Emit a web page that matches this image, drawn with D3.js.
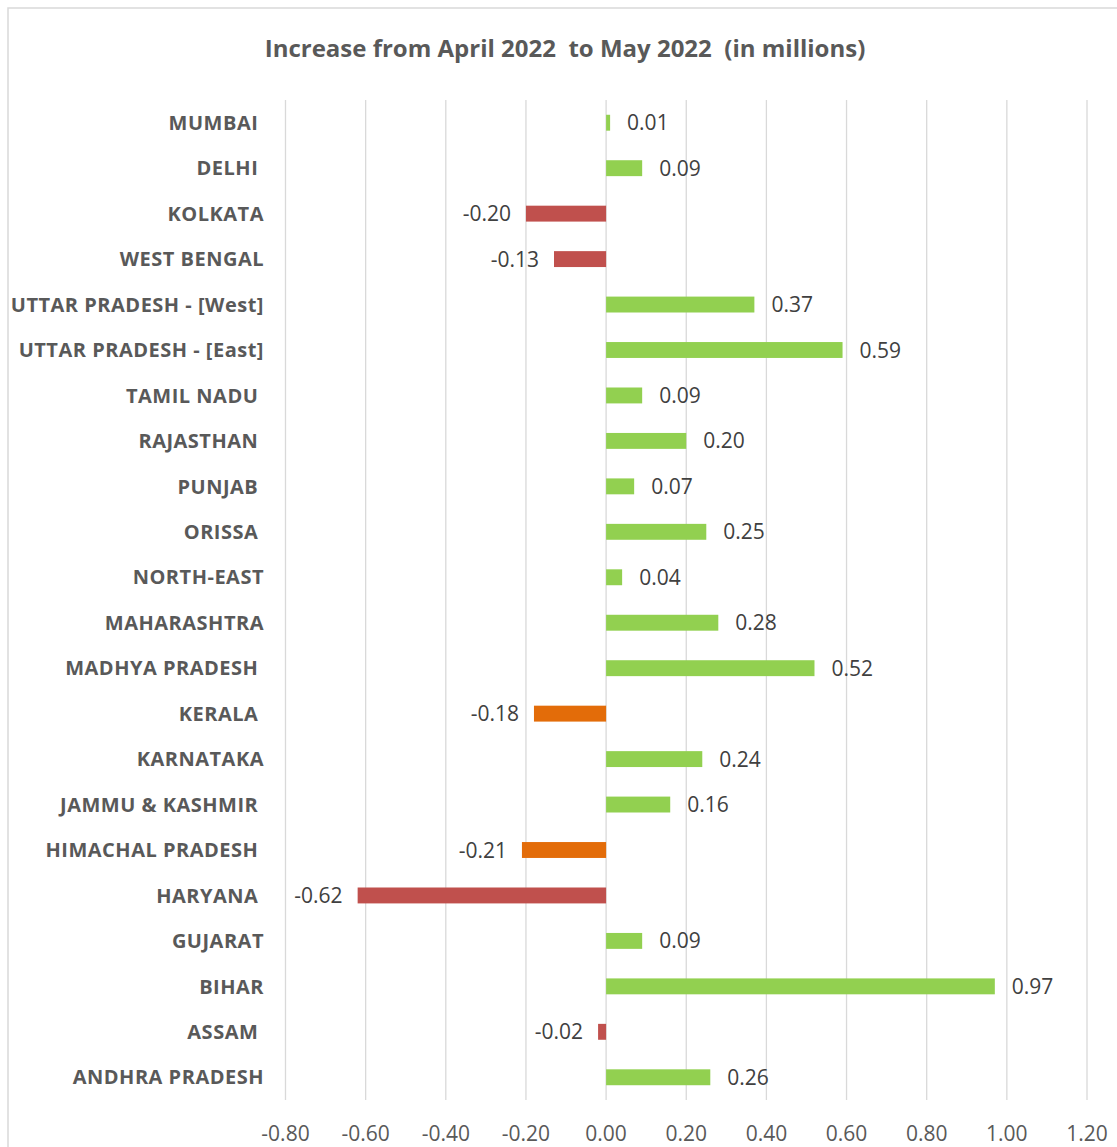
<!DOCTYPE html>
<html><head><meta charset="utf-8">
<script src="https://cdn.jsdelivr.net/npm/d3@7"></script>
<style>
html,body{margin:0;padding:0;background:#fff;}
svg{display:block;}
text{white-space:pre;}
</style></head>
<body>
<script>
const title = "Increase from April 2022  to May 2022  (in millions)";
const categories = ["MUMBAI ","DELHI ","KOLKATA","WEST BENGAL","UTTAR PRADESH - [West]","UTTAR PRADESH - [East]","TAMIL NADU ","RAJASTHAN ","PUNJAB ","ORISSA ","NORTH-EAST","MAHARASHTRA","MADHYA PRADESH ","KERALA ","KARNATAKA","JAMMU & KASHMIR ","HIMACHAL PRADESH ","HARYANA ","GUJARAT","BIHAR","ASSAM ","ANDHRA PRADESH"];
const values = [0.01,0.09,-0.20,-0.13,0.37,0.59,0.09,0.20,0.07,0.25,0.04,0.28,0.52,-0.18,0.24,0.16,-0.21,-0.62,0.09,0.97,-0.02,0.26];
const colorGroup = ["up","up","down","down","up","up","up","up","up","up","up","up","up","alt","up","up","alt","down","up","up","down","up"];
const xTicks = [-0.8,-0.6,-0.4,-0.2,0,0.2,0.4,0.6,0.8,1.0,1.2];

const W = 1117, H = 1147;
const palette = {up:"#92d050", down:"#c0504d", alt:"#e36c09"};
const fmt = d => d3.format(".2f")(d).replace("\u2212","-");
const svg = d3.select("body").append("svg").attr("width",W).attr("height",H);

// chart border
svg.append("rect").attr("x",8).attr("y",8).attr("width",W+20).attr("height",H+20)
  .attr("fill","#fff").attr("stroke","#d9d9d9").attr("stroke-width",1.5);

const x = d3.scaleLinear().domain([-0.8,1.2]).range([285.5,1087]);
const y = d3.scaleBand().domain(categories).range([100,1100]).paddingInner(0.65).paddingOuter(0.325);

// gridlines
svg.append("g").selectAll("line").data(xTicks).join("line")
  .attr("x1",d=>x(d)).attr("x2",d=>x(d)).attr("y1",100).attr("y2",1100)
  .attr("stroke","#d9d9d9").attr("stroke-width",1.3);

// title
svg.append("text").attr("x",565).attr("y",57).attr("text-anchor","middle")
  .attr("font-family","Open Sans").attr("font-weight","bold").attr("font-size",24)
  .attr("fill","#595959").text(title);

// bars
svg.append("g").selectAll("rect").data(values).join("rect")
  .attr("x",d=>x(Math.min(0,d)))
  .attr("width",d=>Math.abs(x(d)-x(0)))
  .attr("y",(d,i)=>y(categories[i]))
  .attr("height",y.bandwidth())
  .attr("fill",(d,i)=>palette[colorGroup[i]]);

// value labels
svg.append("g").selectAll("text").data(values).join("text")
  .attr("x",d=> d>=0 ? x(d)+17 : x(d)-15)
  .attr("y",(d,i)=>y(categories[i])+y.bandwidth()/2)
  .attr("dy","0.36em")
  .attr("text-anchor",d=> d>=0 ? "start" : "end")
  .attr("font-family","Open Sans").attr("font-size",21).attr("fill","#404040")
  .text(fmt);

// category axis labels
svg.append("g").selectAll("text").data(categories).join("text")
  .attr("x",264)
  .attr("y",d=>y(d)+y.bandwidth()/2)
  .attr("dy","0.36em")
  .attr("text-anchor","end")
  .attr("font-family","Open Sans").attr("font-weight","bold").attr("font-size",20)
  .attr("letter-spacing",0.5)
  .attr("fill","#595959")
  .text(d=>d);

// x axis tick labels
svg.append("g").selectAll("text").data(xTicks).join("text")
  .attr("x",d=>x(d)).attr("y",1133).attr("dy","0.36em")
  .attr("text-anchor","middle")
  .attr("font-family","Open Sans").attr("font-size",21).attr("fill","#595959")
  .text(fmt);
</script>
</body></html>
